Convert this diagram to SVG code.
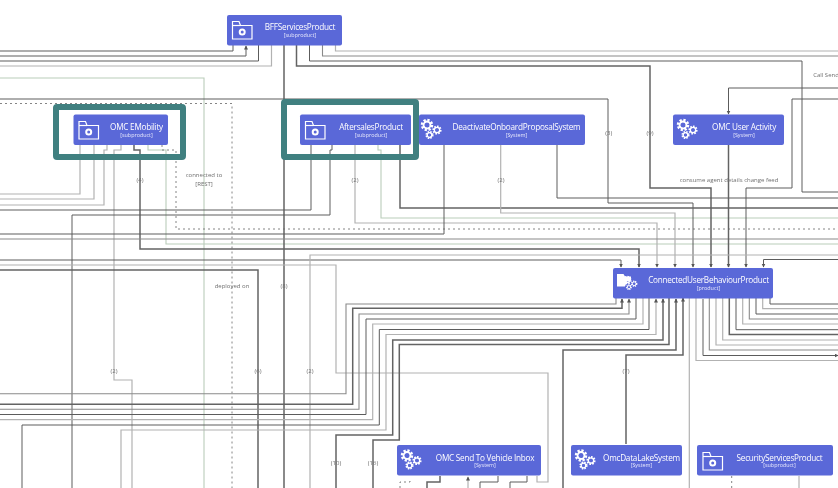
<svg xmlns="http://www.w3.org/2000/svg" width="838" height="488" viewBox="0 0 838 488">
<style>
.c path{fill:none}
.k{stroke:#5c5c5c;stroke-width:1}
.t{stroke:#636363;stroke-width:1.5}
.m{stroke:#8a8a8a;stroke-width:1.1}
.l{stroke:#b2b2b2;stroke-width:1.2}
.g{stroke:#bacdba;stroke-width:1.1}
.o{stroke:#666;stroke-width:.8;stroke-dasharray:2 3}
.a{marker-end:url(#ah)}
.n{fill:#5a67d8}
.f{fill:none;stroke:#3f8080;stroke-width:6}
text{font-family:"Open Sans","Liberation Sans",sans-serif;text-anchor:middle}
.h{font-size:8.2px;fill:#fff;letter-spacing:-.25px}
.s{font-size:5.4px;fill:#e8eafc}
.b{font-size:6px;fill:#707070}
.i{fill:none;stroke:#fff;stroke-width:1.2}
</style>
<defs>
<filter id="soft" filterUnits="userSpaceOnUse" x="0" y="0" width="838" height="488"><feGaussianBlur stdDeviation="0.35"/></filter>
<marker id="ah" markerWidth="5" markerHeight="5" refX="3.500" refY="2" orient="auto" markerUnits="userSpaceOnUse"><path d="M0 0L4 2L0 4Z" fill="#555"/></marker>
<g id="folder"><path class="i" d="M1 1.500V19H20.500V5.500H9L7.500 1.500Z"/><path class="i" d="M1 5.500H9"/><circle cx="10.700" cy="12" r="2.500" fill="none" stroke="#fff" stroke-width="2"/></g>
<g id="gears">
<circle cx="6" cy="6" r="4.500" fill="none" stroke="#fff" stroke-width="3.500" stroke-dasharray="2 1.500"/><circle cx="6" cy="6" r="3.500" fill="none" stroke="#fff" stroke-width="1.800"/>
<circle cx="16" cy="11" r="3.400" fill="none" stroke="#fff" stroke-width="2.400" stroke-dasharray="1.500 1.100"/><circle cx="16" cy="11" r="2.700" fill="none" stroke="#fff" stroke-width="1.300"/>
<circle cx="8.500" cy="16" r="3" fill="none" stroke="#fff" stroke-width="2.200" stroke-dasharray="1.400 1"/><circle cx="8.500" cy="16" r="2.300" fill="none" stroke="#fff" stroke-width="1.200"/>
</g>
</defs>
<rect width="838" height="488" fill="#fff"/>
<g id="diagram" filter="url(#soft)">
<g id="connectors" class="c">
<path class="g" d="M0 78H204V488"/>
<path class="g" d="M148 145V150H166V244H838"/>
<path class="g" d="M378 145V150H381V218H838"/>
<path class="o" d="M0 103.500H232V488"/>
<path class="o" d="M162 145V150H176V229H838"/>
<path class="k" d="M233 45V51H0"/><path class="k a" d="M0 56H246V46"/><path class="k" d="M258.500 45V61H0"/><path class="l" d="M271.500 45V66H0"/>
<path class="t" d="M284 45V488"/>
<path class="t a" d="M296.500 45V66H650V188H711V267"/>
<path class="k" d="M309.500 45V61H802V192H838"/>
<path class="m" d="M322.500 45V56H838"/>
<path class="l" d="M335.500 45V51H838"/>
<path class="k a" d="M0 99H608V203H693V267"/>
<path class="l" d="M80 145V194H0"/><path class="l" d="M94 145V199H0"/><path class="l" d="M107 145V150H104V205H0"/>
<path class="l" d="M121 145V150H114V380H132V488"/>
<path class="t a" d="M134 145V150H140V249H639V267"/>
<path class="k" d="M311 145V210H0"/>
<path class="k" d="M332 145V150H330V215H72V488"/>
<path class="l a" d="M355 145V223H657V267"/>
<path class="t" d="M400 145V208H838"/>
<path class="k" d="M444 145V234H0"/><path class="m" d="M0 239H838"/>
<path class="l a" d="M500.700 145V213H675V267"/>
<path class="k" d="M557 145V198H838"/>
<path class="k a" d="M838 88H728.500V114"/>
<path class="t a" d="M728.500 145V267"/>
<path class="k a" d="M838 99H792V188H746V267"/>
<path class="k a" d="M838 259.500H763.500V267"/>
<path class="k a" d="M0 260H621V267"/>
<path class="l" d="M310 488V255H838"/>
<path class="l" d="M0 265H336V373H548V482H537V476"/>
<path class="t" d="M0 270H258V488"/>
<path class="m" d="M0 393.700H346V304H616V298"/>
<path class="t a" d="M0 404.300H352.700V308.300H622V299"/>
<path class="m a" d="M0 409.300H359V314H629V299"/>
<path class="k" d="M0 414.500H366V319H636V298"/>
<path class="l" d="M0 419.700H372.700V324H643V298"/>
<path class="k" d="M22 488V425H379.300V329.500H649V298"/>
<path class="l a" d="M121 488V430H386V334.500H656V299"/>
<path class="t a" d="M336 488V435H392.700V340H663V299"/>
<path class="t" d="M373 488V440H399.300V344.500H669V298"/>
<path class="t a" d="M563 488V350H676V299"/>
<path class="t a" d="M626 444V355H683V298"/>
<path class="l" d="M689.300 298V488"/>
<path class="l" d="M696 298V360.500H838"/>
<path class="k a" d="M703 299V355.500H838"/>
<path class="m" d="M709.300 298V350H838"/>
<path class="l" d="M716 298V345H838"/>
<path class="l" d="M722.700 298V340H838"/>
<path class="t" d="M729.300 298V334.500H838"/>
<path class="k" d="M736 298V329.700H838"/>
<path class="l" d="M742.700 298V324H838"/>
<path class="m" d="M749.300 298V319H838"/>
<path class="k" d="M756 298V314H838"/>
<path class="l" d="M762.700 298V308.700H838"/>
<path class="k" d="M770 298V304H838"/>
<path class="t" d="M440 476V482H427V488"/><path class="l a" d="M468 488V477"/><path class="k" d="M498 476V482H480V488"/><path class="k" d="M527 476V482H510V488"/>
<path class="o" d="M400 488V482H410V478"/>
<path class="o" d="M731.700 476V488"/><path class="l" d="M799 476V488"/>
</g>
<g id="labels">
<text class="b" x="204" y="177">connected to</text><text class="b" x="204" y="186">[REST]</text>
<text class="b" x="140" y="182">(4)</text><text class="b" x="355" y="182">(2)</text><text class="b" x="501" y="182">(2)</text>
<text class="b" x="608.700" y="134.500">(3)</text><text class="b" x="650" y="134.500">(9)</text>
<text class="b" x="729" y="182">consume agent details change feed</text>
<text class="b" x="826" y="77">Call Send</text>
<text class="b" x="232" y="288">deployed on</text><text class="b" x="284" y="288">(8)</text>
<text class="b" x="114" y="373">(2)</text><text class="b" x="258" y="373">(6)</text><text class="b" x="310" y="373">(2)</text><text class="b" x="626" y="373">(7)</text>
<text class="b" x="336" y="465">(10)</text><text class="b" x="373" y="465">(16)</text>
</g>
<g id="frames"><rect class="f" x="56" y="107" width="127" height="50" rx="1"/><rect class="f" x="284" y="102" width="132" height="55" rx="1"/></g>
<g id="bff"><rect class="n" x="227" y="15" width="115" height="30.500" rx="2"/><use href="#folder" x="231.500" y="20"/><text class="h" x="300" y="29.500">BFFServicesProduct</text><text class="s" x="300" y="37">[subproduct]</text></g>
<g id="emobility"><rect class="n" x="73.500" y="114.500" width="94.500" height="30.500" rx="2"/><use href="#folder" x="78" y="120"/><text class="h" x="136.500" y="130">OMC EMobility</text><text class="s" x="136.500" y="136.500">[subproduct]</text></g>
<g id="aftersales"><rect class="n" x="300" y="114.500" width="111" height="30.500" rx="2"/><use href="#folder" x="304.500" y="120"/><text class="h" x="371" y="130">AftersalesProduct</text><text class="s" x="371" y="136.500">[subproduct]</text></g>
<g id="deactivate"><rect class="n" x="419" y="114.500" width="166" height="30.500" rx="2"/><use href="#gears" x="421" y="119"/><text class="h" x="516.500" y="130">DeactivateOnboardProposalSystem</text><text class="s" x="516.500" y="136.500">[System]</text></g>
<g id="useractivity"><rect class="n" x="673" y="114.500" width="111" height="30.500" rx="2"/><use href="#gears" x="677" y="119"/><text class="h" x="744" y="130">OMC User Activity</text><text class="s" x="744" y="136.500">[System]</text></g>
<g id="connected"><rect class="n" x="613" y="268" width="160" height="30.500" rx="2"/><path fill="#fff" d="M617 274h6.500l1.500 2.500h6v4l-4 1-2 5h-8z"/><use href="#gears" transform="translate(623 276) scale(.7)"/><text class="h" x="708.500" y="282.500">ConnectedUserBehaviourProduct</text><text class="s" x="708.500" y="289.500">[product]</text></g>
<g id="inbox"><rect class="n" x="397" y="445" width="144" height="30.500" rx="2"/><use href="#gears" x="401" y="449.500"/><text class="h" x="485" y="460.500">OMC Send To Vehicle Inbox</text><text class="s" x="485" y="467">[System]</text></g>
<g id="datalake"><rect class="n" x="571" y="445" width="111" height="30.500" rx="2"/><use href="#gears" x="575" y="449.500"/><text class="h" x="641.500" y="460.500">OmcDataLakeSystem</text><text class="s" x="641.500" y="467">[System]</text></g>
<g id="security"><rect class="n" x="697" y="445" width="136" height="30.500" rx="2"/><use href="#folder" x="702" y="451"/><text class="h" x="779.500" y="460.500">SecurityServicesProduct</text><text class="s" x="779.500" y="467">[subproduct]</text></g>
</g>
</svg>
